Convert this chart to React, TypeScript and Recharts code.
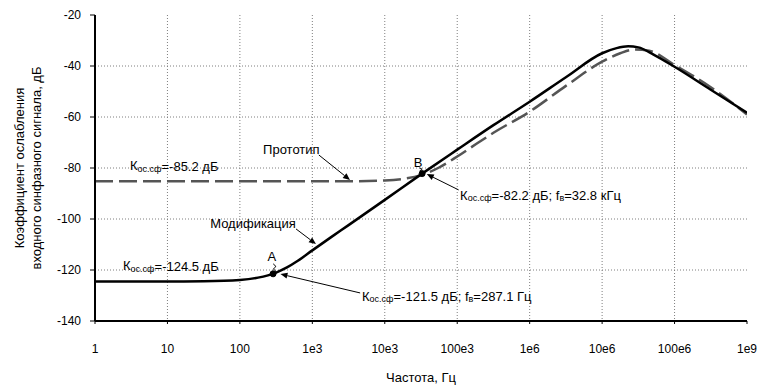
import {
  LineChart,
  Line,
  XAxis,
  YAxis,
  CartesianGrid,
  ReferenceDot,
  ReferenceLine,
} from "recharts";

// ---------------------------------------------------------------------------
// Data (x is log10 of frequency in Hz, y is dB)
// ---------------------------------------------------------------------------

const xTicks = [0, 1, 2, 3, 4, 5, 6, 7, 8, 9];
const xLabels = ["1", "10", "100", "1e3", "10e3", "100e3", "1e6", "10e6", "100e6", "1e9"];
const yTicks = [-140, -120, -100, -80, -60, -40, -20];

// "Модификация" — solid curve
const modLogF = [0, 0.5, 1, 1.5, 2, 2.25, 2.5, 2.65, 2.8, 3, 3.25, 3.5, 4, 4.5, 5, 5.5, 6, 6.5, 7, 7.2, 7.36, 7.5, 7.71, 8, 8.5, 9];
const modDb = [
  -124.5, -124.5, -124.5, -124.4, -123.9, -123.0, -121.0, -119.0, -116.4, -112.3, -107.3, -102.4,
  -92.5, -82.5, -72.8, -63.2, -54.0, -44.4, -35.0, -33.0, -32.3, -32.7, -35.5, -40.3, -49.3, -58.3,
];

// "Прототип" — dashed curve
const protoLogF = [0, 1, 2, 3, 3.5, 4, 4.25, 4.5, 4.75, 5, 5.25, 5.5, 6, 6.5, 7, 7.25, 7.45, 7.65, 8, 8.5, 9];
const protoDb = [
  -85.2, -85.2, -85.2, -85.2, -85.2, -84.9, -84.3, -82.8, -79.8, -75.5, -70.8, -66.2, -57.9,
  -47.8, -38.3, -35.0, -33.5, -34.0, -39.6, -48.3, -59.0,
];

// marked points A and B (log10 f, dB)
const pointA = { x: Math.log10(287.1), y: -121.5 };
const pointB = { x: Math.log10(32.8e3), y: -82.2 };

const modData = modLogF.map((x, i) => ({ x, y: modDb[i] }));
const protoData = protoLogF.map((x, i) => ({ x, y: protoDb[i] }));

const FONT = "'Liberation Sans', Arial, sans-serif";

// ---------------------------------------------------------------------------
// Annotation helpers
// ---------------------------------------------------------------------------

function KText(props: any) {
  const { cx, cy, val, freq } = props;
  return (
    <text x={cx} y={cy} fontFamily={FONT} fontSize={13} fill="#000" dominantBaseline="central">
      К
      <tspan fontSize={9} dy={3}>ос.сф</tspan>
      <tspan dy={-3}>={val}</tspan>
      {freq ? (
        <>
          <tspan>;  f</tspan>
          <tspan fontSize={9} dy={3}>в</tspan>
          <tspan dy={-3}>={freq}</tspan>
        </>
      ) : null}
    </text>
  );
}

function PlainText(props: any) {
  const { cx, cy, value, anchor } = props;
  return (
    <text
      x={cx}
      y={cy}
      fontFamily={FONT}
      fontSize={13}
      fill="#000"
      textAnchor={anchor ?? "start"}
      dominantBaseline="central"
    >
      {value}
    </text>
  );
}

function Arrow(props: any) {
  const { x1, y1, x2, y2 } = props;
  const a = Math.atan2(y2 - y1, x2 - x1);
  const len = 7;
  const w = 3;
  const bx = x2 - len * Math.cos(a);
  const by = y2 - len * Math.sin(a);
  const px = -Math.sin(a) * w;
  const py = Math.cos(a) * w;
  return (
    <g>
      <line x1={x1} y1={y1} x2={bx} y2={by} stroke="#000" strokeWidth={1} />
      <polygon points={`${x2},${y2} ${bx + px},${by + py} ${bx - px},${by - py}`} fill="#000" />
    </g>
  );
}

function Squiggle(props: any) {
  const { x1, y1, x2, y2 } = props;
  const mx = (x1 + x2) / 2;
  const my = (y1 + y2) / 2;
  return (
    <path
      d={`M${x1},${y1} Q${x1 + 4},${my - 1} ${mx},${my} T${x2},${y2}`}
      fill="none"
      stroke="#000"
      strokeWidth={1}
    />
  );
}

function YTitle(props: any) {
  const { viewBox } = props;
  const cy = viewBox.y + viewBox.height / 2;
  return (
    <g fontFamily={FONT} fontSize={13} fill="#000">
      <text x={19} y={cy} textAnchor="middle" dominantBaseline="central" transform={`rotate(-90 19 ${cy})`}>
        Коэффициент ослабления
      </text>
      <text x={36} y={cy} textAnchor="middle" dominantBaseline="central" transform={`rotate(-90 36 ${cy})`}>
        входного синфазного сигнала, дБ
      </text>
    </g>
  );
}

function XTitle(props: any) {
  const { viewBox } = props;
  const cx = viewBox.x + viewBox.width / 2;
  return (
    <text x={cx} y={377} fontFamily={FONT} fontSize={13} fill="#000" textAnchor="middle" dominantBaseline="central">
      Частота, Гц
    </text>
  );
}

// ---------------------------------------------------------------------------
// Component
// ---------------------------------------------------------------------------

export default function App() {
  return (
    <div style={{ position: "absolute", left: 0, top: 0, width: 762, height: 388, background: "#fff" }}>
      <LineChart width={762} height={388} margin={{ top: 15, right: 15, bottom: 0, left: 0 }}>
        <CartesianGrid
          stroke="#7f7f7f"
          strokeDasharray="1 2"
          horizontalValues={[-40, -60, -80, -100, -120]}
          verticalValues={[1, 2, 3, 4, 5, 6, 7, 8]}
        />
        <XAxis
          type="number"
          dataKey="x"
          domain={[0, 9]}
          ticks={xTicks}
          tickFormatter={(v: number) => xLabels[v] ?? ""}
          height={67}
          tickSize={3}
          tickMargin={20}
          stroke="#000"
          axisLine={{ stroke: "#000", strokeWidth: 2 }}
          tickLine={{ stroke: "#000" }}
          tick={{ fill: "#000", fontSize: 12, fontFamily: FONT }}
          allowDataOverflow
          label={{ content: XTitle }}
        />
        <YAxis
          type="number"
          domain={[-140, -20]}
          ticks={yTicks}
          width={95}
          tickSize={5}
          tickMargin={9}
          stroke="#000"
          axisLine={{ stroke: "#000", strokeWidth: 2 }}
          tickLine={{ stroke: "#000" }}
          tick={{ fill: "#000", fontSize: 12, fontFamily: FONT }}
          allowDataOverflow
          label={{ content: YTitle }}
        />
        <Line
          data={protoData}
          dataKey="y"
          type="monotone"
          stroke="#555"
          strokeWidth={2.5}
          strokeDasharray="18 6"
          dot={false}
          isAnimationActive={false}
        />
        <Line
          data={modData}
          dataKey="y"
          type="monotone"
          stroke="#000"
          strokeWidth={2.5}
          dot={false}
          isAnimationActive={false}
        />

        {/* text labels */}
        <ReferenceDot x={0.483} y={-79.2} shape={(p: any) => <KText {...p} val="-85.2 дБ" />} />
        <ReferenceDot x={0.387} y={-118.4} shape={(p: any) => <KText {...p} val="-124.5 дБ" />} />
        <ReferenceDot x={3.686} y={-130.2} shape={(p: any) => <KText {...p} val="-121.5 дБ" freq="287.1 Гц" />} />
        <ReferenceDot x={5.04} y={-90.6} shape={(p: any) => <KText {...p} val="-82.2 дБ" freq="32.8 кГц" />} />
        <ReferenceDot x={2.32} y={-72.9} shape={(p: any) => <PlainText {...p} value="Прототип" />} />
        <ReferenceDot x={1.59} y={-101.6} shape={(p: any) => <PlainText {...p} value="Модификация" />} />
        <ReferenceDot x={2.44} y={-114.9} shape={(p: any) => <PlainText {...p} value="A" anchor="middle" />} />
        <ReferenceDot x={4.46} y={-78.0} shape={(p: any) => <PlainText {...p} value="B" anchor="middle" />} />

        {/* arrows and leaders */}
        <ReferenceLine segment={[{ x: 3.09, y: -74.9 }, { x: 3.52, y: -84.7 }]} shape={Arrow} />
        <ReferenceLine segment={[{ x: 2.775, y: -103.9 }, { x: 3.05, y: -109.8 }]} shape={Arrow} />
        <ReferenceLine segment={[{ x: 3.66, y: -129.0 }, { x: 2.56, y: -121.6 }]} shape={Arrow} />
        <ReferenceLine segment={[{ x: 5.02, y: -88.6 }, { x: 4.58, y: -82.4 }]} shape={Arrow} />
        <ReferenceLine segment={[{ x: 2.46, y: -117.6 }, { x: 2.5, y: -120.6 }]} shape={Squiggle} />
        <ReferenceLine segment={[{ x: 4.48, y: -80.0 }, { x: 4.52, y: -81.6 }]} shape={Squiggle} />

        {/* marked points */}
        <ReferenceDot x={pointA.x} y={pointA.y} r={3} fill="#000" stroke="#000" />
        <ReferenceDot x={pointB.x} y={pointB.y} r={3} fill="#000" stroke="#000" />
      </LineChart>
    </div>
  );
}
